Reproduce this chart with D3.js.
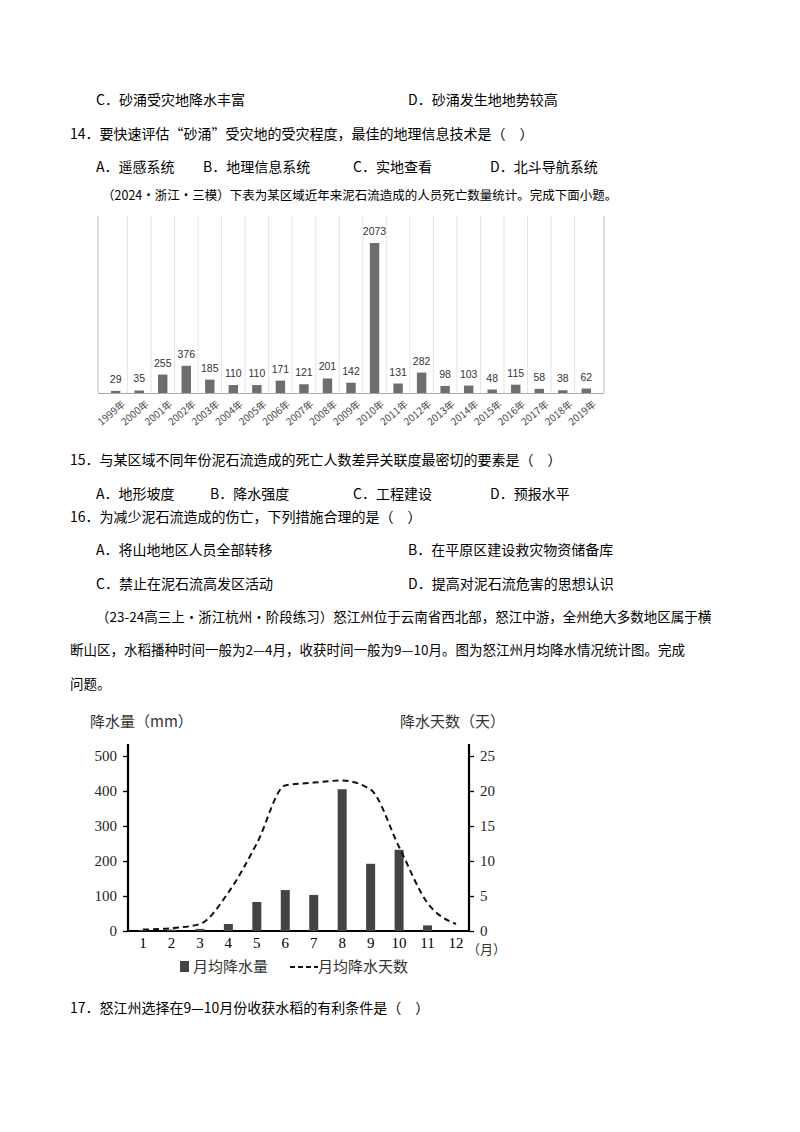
<!DOCTYPE html><html><head><meta charset="utf-8"><script src="https://cdn.jsdelivr.net/npm/d3@7"></script>
<style>body{margin:0;background:#fff}svg{display:block}</style></head><body><svg id="s" width="800" height="1132"></svg>
<script>
const years=["1999年","2000年","2001年","2002年","2003年","2004年","2005年","2006年","2007年","2008年","2009年","2010年","2011年","2012年","2013年","2014年","2015年","2016年","2017年","2018年","2019年"];
const deaths=[29,35,255,376,185,110,110,171,121,201,142,2073,131,282,98,103,48,115,58,38,62];
const months=[1,2,3,4,5,6,7,8,9,10,11,12];
const rain=[3,4,6,20,83,117,103,405,192,232,16,0];
const days=[0.2,0.4,1,5.5,12.5,20.8,21.2,21.5,20.2,12,4,1];
const leftTicks=[0,100,200,300,400,500];
const rightTicks=[0,5,10,15,20,25];
const svg=d3.select("#s");
const F="'Noto Sans CJK SC','Noto Sans',sans-serif";
const lines=[
[96,105,"C．砂涌受灾地降水丰富"],[408,105,"D．砂涌发生地地势较高"],
[70,139,"14．要快速评估“砂涌”受灾地的受灾程度，最佳的地理信息技术是（　）"],
[96,172,"A．遥感系统"],[203,172,"B．地理信息系统"],[353,172,"C．实地查看"],[490,172,"D．北斗导航系统"],
[70,465,"15．与某区域不同年份泥石流造成的死亡人数差异关联度最密切的要素是（　）"],
[96,499,"A．地形坡度"],[210,499,"B．降水强度"],[353,499,"C．工程建设"],[490,499,"D．预报水平"],
[70,522,"16．为减少泥石流造成的伤亡，下列措施合理的是（　）"],
[96,555,"A．将山地地区人员全部转移"],[408,555,"B．在平原区建设救灾物资储备库"],
[96,589,"C．禁止在泥石流高发区活动"],[408,589,"D．提高对泥石流危害的思想认识"],
[70,1013,"17．怒江州选择在9—10月份收获水稻的有利条件是（　）"]];
lines.forEach(l=>svg.append("text").attr("x",l[0]).attr("y",l[1]).attr("font-family",F).attr("font-size",14).text(l[2]));
svg.append("text").attr("x",102).attr("y",200).attr("font-family",F).attr("font-size",12.5).text("（2024·浙江·三模）下表为某区域近年来泥石流造成的人员死亡数量统计。完成下面小题。");
[[96,622,"（23-24高三上·浙江杭州·阶段练习）怒江州位于云南省西北部，怒江中游，全州绝大多数地区属于横"],[70,655,"断山区，水稻播种时间一般为2—4月，收获时间一般为9—10月。图为怒江州月均降水情况统计图。完成"],[70,689,"问题。"]]
.forEach(l=>svg.append("text").attr("x",l[0]).attr("y",l[1]).attr("font-family",F).attr("font-size",13.5).text(l[2]));
// chart 1
const x1=d3.scaleBand().domain(years).range([98,604]).padding(0.5);
const y1=d3.scaleLinear().domain([0,2073]).range([393,243]);
const g1=svg.append("g");
g1.append("line").attr("x1",98).attr("x2",98).attr("y1",216).attr("y2",393).attr("stroke","#bbb");
g1.append("line").attr("x1",604).attr("x2",604).attr("y1",216).attr("y2",393).attr("stroke","#bbb");
years.forEach((y,i)=>{if(i>0)g1.append("line").attr("x1",x1(y)-x1.step()*0.25).attr("x2",x1(y)-x1.step()*0.25).attr("y1",216).attr("y2",393).attr("stroke","#e4e4e4")});
g1.selectAll("rect").data(years).join("rect").attr("x",d=>x1(d)+x1.bandwidth()*0.1).attr("width",x1.bandwidth()*0.8)
 .attr("y",(d,i)=>y1(deaths[i])).attr("height",(d,i)=>393-y1(deaths[i])).attr("fill","#6e6e6e");
g1.append("line").attr("x1",98).attr("x2",604).attr("y1",393.5).attr("y2",393.5).attr("stroke","#aaa");
g1.selectAll(".v").data(years).join("text").attr("x",d=>x1(d)+x1.bandwidth()/2).attr("y",(d,i)=>y1(deaths[i])-8)
 .attr("text-anchor","middle").attr("font-family","Liberation Sans,Arial").attr("font-size",10.5).attr("fill","#333").text((d,i)=>deaths[i]);
g1.selectAll(".t").data(years).join("text").attr("transform",d=>`translate(${x1(d)+x1.bandwidth()/2+6},${400}) rotate(-40)`)
 .attr("text-anchor","end").attr("dy","0.7em").attr("font-family",F).attr("font-size",10).attr("fill","#444").text(d=>d);
// chart 2
const x2=d3.scaleLinear().domain([1,12]).range([143,456]);
const yl=d3.scaleLinear().domain([0,500]).range([931,756]);
const yr=d3.scaleLinear().domain([0,25]).range([931,756]);
const g2=svg.append("g").attr("font-family","'Liberation Serif','Times New Roman',serif").attr("font-size",15);
const al=g2.append("g").attr("transform","translate(128,0)").call(d3.axisLeft(yl).tickValues(leftTicks).tickSize(5).tickPadding(6));
const ar=g2.append("g").attr("transform","translate(469,0)").call(d3.axisRight(yr).tickValues(rightTicks).tickSize(5).tickPadding(6));
[al,ar].forEach(a=>{a.select(".domain").attr("stroke-width",2.2).attr("d","M0,744V931");a.selectAll("text").attr("font-family","'Liberation Serif',serif").attr("font-size",15).attr("fill","#222");a.selectAll("line").attr("stroke-width",1.3)});
g2.append("line").attr("x1",127).attr("x2",470).attr("y1",931).attr("y2",931).attr("stroke","#000").attr("stroke-width",2);
g2.selectAll("rect").data(months).join("rect").attr("x",d=>x2(d)-4.5).attr("width",9).attr("y",(d,i)=>yl(rain[i])).attr("height",(d,i)=>931-yl(rain[i])).attr("fill","#444");
g2.append("path").datum(months).attr("d",d3.line().x(d=>x2(d)).y((d,i)=>yr(days[i])).curve(d3.curveMonotoneX))
 .attr("fill","none").attr("stroke","#111").attr("stroke-width",2).attr("stroke-dasharray","6,4");
g2.selectAll(".m").data(months).join("text").attr("x",d=>x2(d)).attr("y",948).attr("text-anchor","middle").text(d=>d);
g2.append("text").attr("x",467).attr("y",954).attr("font-family",F).attr("font-size",13).attr("fill","#333").text("（月）");
svg.append("text").attr("x",90).attr("y",727).attr("font-family",F).attr("font-size",15).attr("fill","#333").text("降水量（mm）");
svg.append("text").attr("x",400).attr("y",727).attr("font-family",F).attr("font-size",15).attr("fill","#333").text("降水天数（天）");
svg.append("rect").attr("x",180).attr("y",961).attr("width",9).attr("height",11).attr("fill","#444");
svg.append("text").attr("x",193).attr("y",972).attr("font-family",F).attr("font-size",15).attr("fill","#333").text("月均降水量");
svg.append("line").attr("x1",290).attr("x2",318).attr("y1",967).attr("y2",967).attr("stroke","#111").attr("stroke-width",2).attr("stroke-dasharray","5,3");
svg.append("text").attr("x",318).attr("y",972).attr("font-family",F).attr("font-size",15).attr("fill","#333").text("月均降水天数");
</script></body></html>
